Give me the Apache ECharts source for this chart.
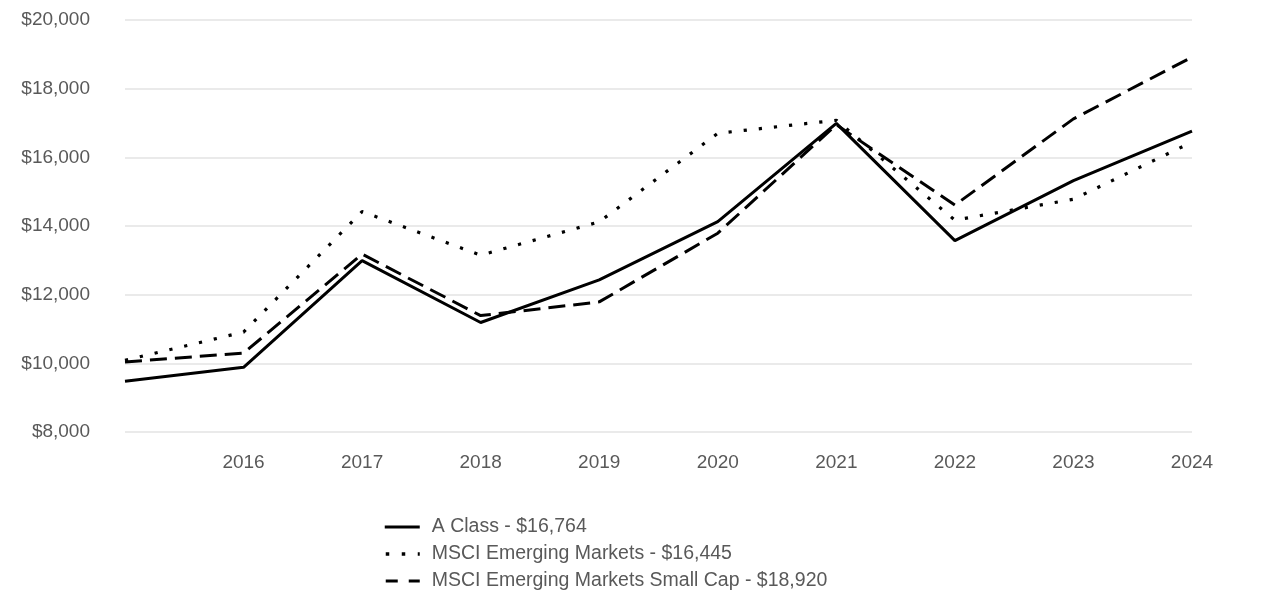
<!DOCTYPE html>
<html>
<head>
<meta charset="utf-8">
<script src="https://cdn.jsdelivr.net/npm/echarts@6/dist/echarts.min.js"></script>
<style>html,body{margin:0;padding:0;background:#fff}#c{width:1286px;height:614px}</style>
</head>
<body>
<div id="c"></div>
<script>
var years = ['2015','2016','2017','2018','2019','2020','2021','2022','2023','2024'];
var yTicks = [8000, 10000, 12000, 14000, 16000, 18000, 20000];
var aClass = [9475, 9885, 12990, 11190, 12430, 14130, 16990, 13575, 15320, 16764];
var msciEM = [10090, 10910, 14420, 13150, 14120, 16700, 17080, 14170, 14780, 16445];
var msciSmall = [10040, 10300, 13180, 11390, 11790, 13790, 16950, 14610, 17120, 18920];
var names = ['A Class - $16,764', 'MSCI Emerging Markets - $16,445', 'MSCI Emerging Markets Small Cap - $18,920'];

var font = "'Liberation Sans', Arial, sans-serif";
var chart = echarts.init(document.getElementById('c'));
chart.setOption({
  animation: false,
  grid: {left: 125, right: 94, top: 20, bottom: 182},
  legend: {
    orient: 'vertical', left: 378, top: 512,
    itemWidth: 35, itemHeight: 14, itemGap: 7,
    itemStyle: {opacity: 0},
    textStyle: {color: '#595959', fontSize: 19.5, lineHeight: 20, fontFamily: font, padding: [0, 0, 0, 7]},
    data: [
      {name: names[0], lineStyle: {color: '#000', width: 3, type: 'solid'}},
      {name: names[1], lineStyle: {color: '#000', width: 3.5, type: [3.5, 12.5], dashOffset: -1}},
      {name: names[2], lineStyle: {color: '#000', width: 3, type: [12, 11]}}
    ]
  },
  xAxis: {
    type: 'category', boundaryGap: false, data: years,
    axisLine: {show: false}, axisTick: {show: false},
    axisLabel: {color: '#595959', fontSize: 19, fontFamily: font, margin: 21,
      formatter: function (v, i) { return i === 0 ? '' : v; }}
  },
  yAxis: {
    type: 'value', min: yTicks[0], max: yTicks[yTicks.length - 1], interval: 2000,
    axisLine: {show: false}, axisTick: {show: false},
    splitLine: {lineStyle: {color: '#e3e3e3', width: 1.5}},
    axisLabel: {color: '#595959', fontSize: 19, fontFamily: font, margin: 35,
      formatter: function (v) { return '$' + v.toLocaleString('en-US'); }}
  },
  series: [
    {name: names[0], type: 'line', data: aClass, symbol: 'none',
      lineStyle: {color: '#000', width: 3, type: 'solid'}, itemStyle: {color: '#000'}},
    {name: names[1], type: 'line', data: msciEM, symbol: 'none',
      lineStyle: {color: '#000', width: 3.2, type: [3.2, 12]}, itemStyle: {color: '#000'}},
    {name: names[2], type: 'line', data: msciSmall, symbol: 'none',
      lineStyle: {color: '#000', width: 3, type: [17, 8]}, itemStyle: {color: '#000'}}
  ]
});
</script>
</body>
</html>
